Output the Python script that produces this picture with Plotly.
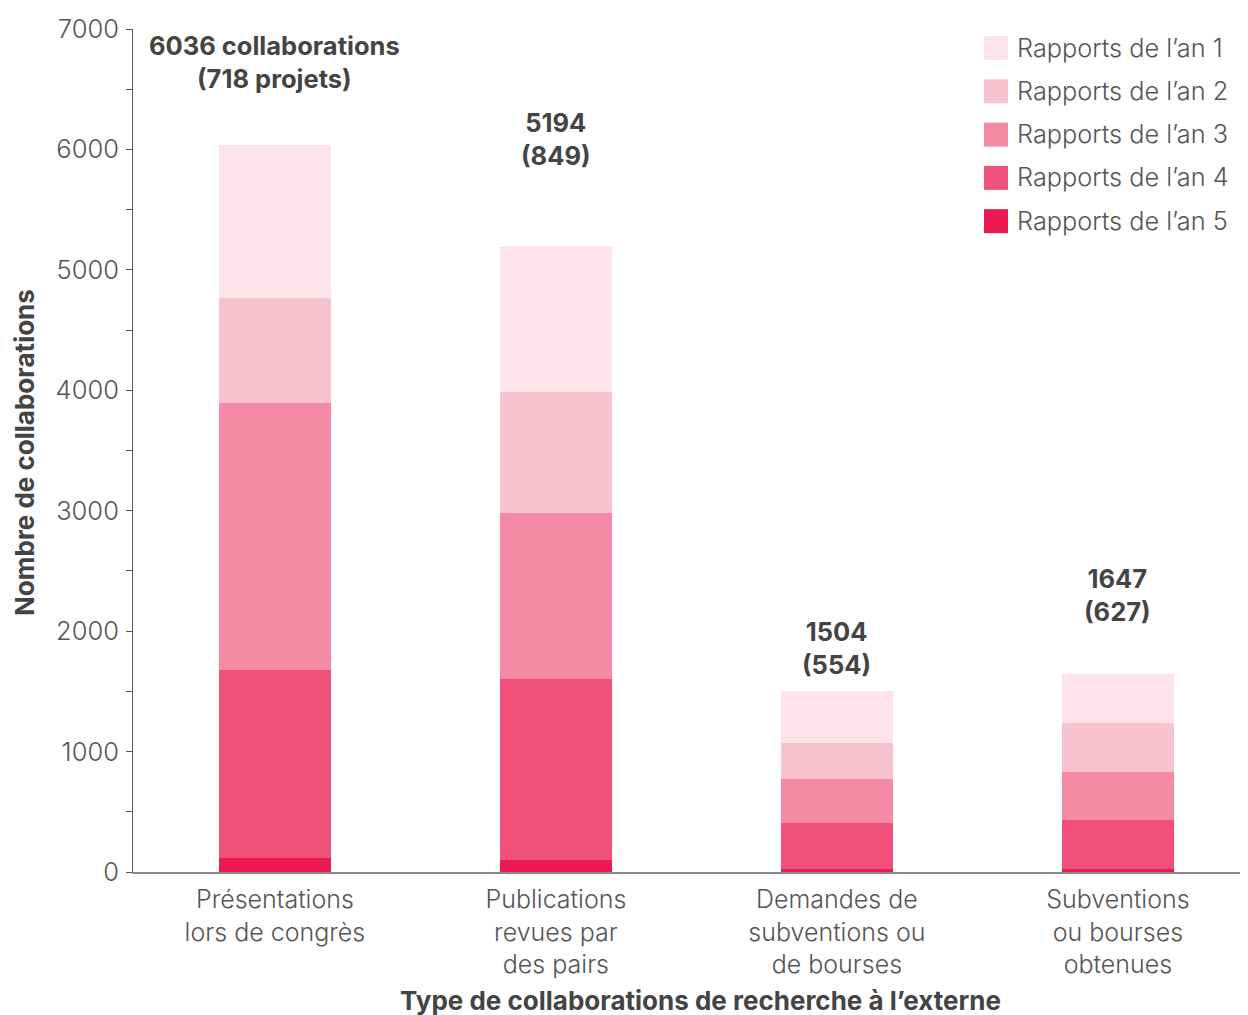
import plotly.graph_objects as go

categories = ["Présentations<br>lors de congrès", "Publications<br>revues par<br>des pairs",
              "Demandes de<br>subventions ou<br>de bourses", "Subventions<br>ou bourses<br>obtenues"]
series_names = ["Rapports de l’an 1", "Rapports de l’an 2", "Rapports de l’an 3",
                "Rapports de l’an 4", "Rapports de l’an 5"]
an1 = [1269, 1207, 433, 409]
an2 = [872, 1005, 299, 407]
an3 = [2217, 1379, 365, 399]
an4 = [1562, 1503, 382, 407]
an5 = [116, 100, 25, 25]
totals = [6036, 5194, 1504, 1647]
projets = [718, 849, 554, 627]
y_ticks = [0, 1000, 2000, 3000, 4000, 5000, 6000, 7000]

colors = ["#FCE4EA", "#F8C3D1", "#F48AA6", "#F0517A", "#EC1A50"]
values = [an1, an2, an3, an4, an5]

FONT = "Inter"
OFF = 8  # page body margin
W, H = 1248 - OFF, 1015 - OFF
# plot area in page pixels: x 133..1248, y 29..872
L = 133 - OFF
T = 29 - OFF
R = 0
B = H - (872 - OFF)

fig = go.Figure()
for i in [4, 3, 2, 1, 0]:
    fig.add_trace(go.Bar(x=categories, y=values[i], name=series_names[i],
                         marker=dict(color=colors[i], line=dict(width=0)),
                         showlegend=False))

# annotations above bars
ann_y = [6727, 6088, 1860, 2300]
labels = [f"{totals[0]} collaborations<br>({projets[0]} projets)"] + \
         [f"{totals[k]}<br>({projets[k]})" for k in range(1, 4)]
for k in range(4):
    fig.add_annotation(x=categories[k], y=ann_y[k], text=labels[k], showarrow=False,
                       xanchor="center", yanchor="middle",
                       font=dict(family=FONT, size=25.5, color="#444444", weight="bold"))

# manual legend (page pixel -> paper coords)
pw, ph = W - L - R, H - T - B
def px_x(p):
    return (p - OFF - L) / pw
def px_y(p):
    return (H - B - (p - OFF)) / ph
for j in range(5):
    cy = 48 + j * 43.3
    fig.add_shape(type="rect", xref="paper", yref="paper",
                  x0=px_x(984), x1=px_x(1008), y0=px_y(cy + 12), y1=px_y(cy - 12),
                  fillcolor=colors[j], line=dict(width=0))
    fig.add_annotation(xref="paper", yref="paper", x=px_x(1015), y=px_y(cy - 1),
                       text=series_names[j], showarrow=False, xanchor="left", yanchor="middle",
                       font=dict(family=FONT, size=25.3, color="#555555", weight=300))

# axis titles
fig.add_annotation(xref="paper", yref="paper", x=px_x(700), y=px_y(1000),
                   text="Type de collaborations de recherche à l’externe", showarrow=False,
                   xanchor="center", yanchor="middle",
                   font=dict(family=FONT, size=26, color="#444444", weight="bold"))
fig.add_annotation(xref="paper", yref="paper", x=px_x(25), y=px_y(453),
                   text="Nombre de collaborations", showarrow=False, textangle=-90,
                   xanchor="center", yanchor="middle",
                   font=dict(family=FONT, size=26, color="#444444", weight="bold"))

fig.update_layout(
    width=W, height=H, barmode="stack", bargap=0.6,
    margin=dict(l=L, r=R, t=T, b=B, pad=0),
    plot_bgcolor="white", paper_bgcolor="white",
    font=dict(family=FONT, color="#555555"),
    showlegend=False,
)
fig.update_xaxes(range=[-0.505, 3.463], showline=True, linecolor="#888888", linewidth=2,
                 ticks="", showgrid=False, ticklabelstandoff=4,
                 tickfont=dict(family=FONT, size=25, color="#555555", weight=300))
fig.update_yaxes(range=[0, 7000], tickvals=y_ticks, showline=True, linecolor="#555555",
                 linewidth=1, ticks="outside", ticklen=6, tickcolor="#555555", showgrid=False,
                 zeroline=False, ticklabelstandoff=2,
                 minor=dict(dtick=500, ticks="outside", ticklen=6, tickcolor="#555555", showgrid=False),
                 tickfont=dict(family=FONT, size=25.5, color="#555555", weight=300))

fig.write_html("out.html")
